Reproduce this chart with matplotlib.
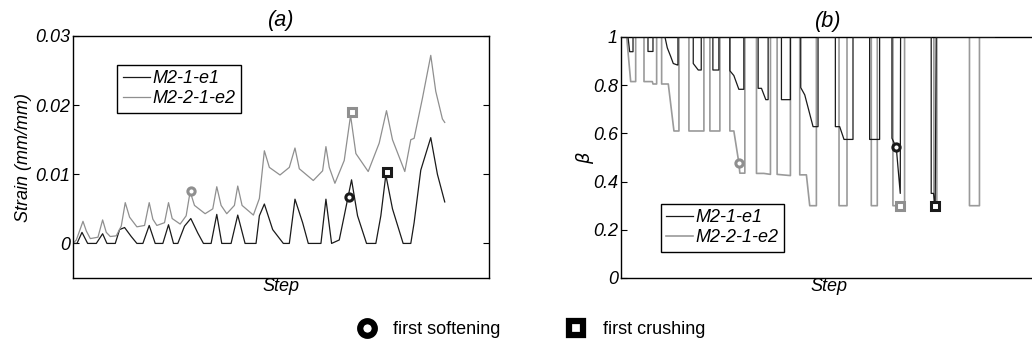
import matplotlib
matplotlib.use("Agg")
import matplotlib.pyplot as plt
from matplotlib.lines import Line2D

plt.rcParams["font.family"] = ["Liberation Sans", "DejaVu Sans"]
plt.rcParams["font.size"] = 13

# ---- panel (a): strain vs step ----
step_e1 = [0, 12, 27, 44, 70, 89, 102, 127, 140, 155, 175, 192, 210, 229, 247, 270, 287,
           302, 315, 335, 354, 375, 392, 415, 432, 447, 475, 495, 517, 550, 560, 575, 600,
           632, 650, 667, 690, 707, 745, 760, 777, 800, 815, 837, 855, 882, 910, 925, 940,
           960, 992, 1015, 1025, 1045, 1075, 1095, 1117]
strain_e1 = [0, 0, 0.0016, 0, 0, 0.0014, 0, 0, 0.002, 0.0023, 0.001, 0, 0, 0.0026, 0, 0,
             0.0027, 0, 0, 0.0025, 0.0036, 0.0015, 0, 0, 0.0042, 0, 0, 0.0041, 0, 0, 0.004,
             0.0057, 0.002, 0, 0, 0.0064, 0.003, 0, 0, 0.0064, 0, 0.0005, 0.004, 0.0092,
             0.004, 0, 0, 0.004, 0.0099, 0.005, 0, 0, 0.003, 0.0106, 0.0153, 0.01, 0.006]

step_e2 = [0, 10, 30, 40, 52, 75, 89, 100, 112, 130, 145, 157, 170, 192, 215, 229, 240, 252,
           275, 287, 298, 322, 340, 352, 365, 397, 420, 432, 445, 462, 485, 495, 508, 542,
           560, 575, 590, 622, 650, 667, 680, 722, 750, 760, 770, 787, 815, 834, 850, 887,
           920, 942, 960, 997, 1015, 1025, 1050, 1075, 1090, 1110, 1117]
strain_e2 = [0, 0.0005, 0.0032, 0.0018, 0.0007, 0.0009, 0.0034, 0.0016, 0.001, 0.0011,
             0.0025, 0.0059, 0.0038, 0.0024, 0.0026, 0.0059, 0.0035, 0.0026, 0.003, 0.0059,
             0.0036, 0.0028, 0.004, 0.0075, 0.0055, 0.0043, 0.005, 0.0082, 0.0055, 0.0043,
             0.0055, 0.0083, 0.0055, 0.0041, 0.0065, 0.0134, 0.011, 0.0099, 0.011, 0.0138,
             0.0108, 0.0091, 0.0105, 0.014, 0.011, 0.0087, 0.012, 0.0185, 0.013, 0.0104,
             0.0145, 0.0192, 0.015, 0.0104, 0.015, 0.0152, 0.021, 0.0272, 0.022, 0.018, 0.0175]

# ---- panel (b): beta vs step ----
bstep_e1 = [0, 22, 27, 37, 37, 82, 82, 97, 97, 133, 140, 150, 158, 170, 172, 172, 218, 218,
            233, 242, 242, 277, 277, 295, 295, 328, 328, 340, 355, 370, 370, 413, 413, 423,
            436, 443, 443, 483, 483, 510, 510, 541, 541, 553, 578, 593, 593, 645, 645, 658,
            671, 698, 698, 748, 748, 778, 778, 815, 815, 828, 840, 841, 933, 933, 940, 945,
            948, 1123]
beta_e1 = [1, 1, 0.939, 0.939, 1, 1, 0.94, 0.94, 1, 1, 0.955, 0.92, 0.89, 0.884, 0.884, 1, 1,
           0.89, 0.863, 0.863, 1, 1, 0.863, 0.863, 1, 1, 0.86, 0.84, 0.783, 0.783, 1, 1, 0.787,
           0.787, 0.74, 0.74, 1, 1, 0.74, 0.74, 1, 1, 0.79, 0.76, 0.628, 0.628, 1, 1, 0.628,
           0.628, 0.575, 0.575, 1, 1, 0.575, 0.575, 1, 1, 0.58, 0.542, 0.351, 1, 1, 0.351,
           0.351, 0.30, 1, 1]

bstep_e2 = [0, 18, 30, 45, 45, 70, 70, 95, 97, 108, 108, 123, 123, 143, 160, 175, 175, 205,
            205, 250, 250, 268, 268, 298, 298, 328, 328, 340, 355, 358, 373, 373, 408, 408,
            430, 450, 450, 470, 470, 510, 510, 538, 538, 558, 568, 588, 588, 656, 656, 680,
            680, 753, 753, 771, 771, 818, 818, 853, 853, 941, 941, 950, 950, 1048, 1048, 1078,
            1078, 1123]
beta_e2 = [1, 1, 0.815, 0.815, 1, 1, 0.815, 0.815, 0.805, 0.805, 1, 1, 0.805, 0.805, 0.61,
           0.61, 1, 1, 0.61, 0.61, 1, 1, 0.61, 0.61, 1, 1, 0.61, 0.61, 0.478, 0.435, 0.435, 1,
           1, 0.434, 0.434, 0.43, 1, 1, 0.43, 0.425, 1, 1, 0.428, 0.428, 0.30, 0.30, 1, 1,
           0.30, 0.30, 1, 1, 0.30, 0.30, 1, 1, 0.30, 0.30, 1, 1, 0.30, 0.30, 1, 1, 0.30, 0.30,
           1, 1]

# event markers: (step, strain, beta)
soft_e1 = (828, 0.0067, 0.542)
soft_e2 = (355, 0.0076, 0.478)
crush_e1 = (945, 0.0104, 0.30)
crush_e2 = (838, 0.0190, 0.30)

BLACK = "#1a1a1a"
GRAY = "#8f8f8f"
GRAY_B = "#9a9a9a"
W, H = 1032, 345

fig = plt.figure(figsize=(W / 100, H / 100), dpi=100)
ax1 = fig.add_axes([73 / W, 67 / H, 416 / W, 242 / H])
ax2 = fig.add_axes([620.7 / W, 67 / H, 416 / W, 241 / H])

it = dict(style="italic")
leg_kw = dict(loc="upper left", fancybox=False, edgecolor="black", framealpha=1,
              borderpad=0.3, borderaxespad=0, handlelength=1.5, handletextpad=0.15,
              labelspacing=0.15, prop=dict(style="italic", size=13))

# (a)
ax1.plot(step_e1, strain_e1, color=BLACK, lw=0.9, label="M2-1-e1")
ax1.plot(step_e2, strain_e2, color=GRAY, lw=0.9, label="M2-2-1-e2")
mk = dict(ms=5.2, mew=2.2, mfc="white", ls="none")
ax1.plot(soft_e2[0], soft_e2[1], "o", mec=GRAY, **mk)
ax1.plot(crush_e2[0], crush_e2[1], "s", mec=GRAY, **mk)
ax1.plot(soft_e1[0], soft_e1[1], "o", mec=BLACK, **mk)
ax1.plot(crush_e1[0], crush_e1[1], "s", mec=BLACK, **mk)
ax1.set_xlim(0, 1250)
ax1.set_ylim(-0.005, 0.03)
ax1.set_yticks([0, 0.01, 0.02, 0.03])
ax1.set_yticklabels(["0", "0.01", "0.02", "0.03"], **it)
ax1.set_ylabel("Strain (mm/mm)", labelpad=2, **it)
ax1.set_xlabel("Step", labelpad=0, **it)
ax1.set_title("(a)", pad=7, **it)
leg1 = ax1.legend(bbox_to_anchor=(0.106, 0.88), **leg_kw)
leg1.get_frame().set_linewidth(1.0)

# (b)
ax2.plot(bstep_e1, beta_e1, color=BLACK, lw=0.9, label="M2-1-e1", zorder=3)
ax2.plot(bstep_e2, beta_e2, color=GRAY_B, lw=1.2, label="M2-2-1-e2", zorder=2)
ax2.plot(soft_e2[0], soft_e2[2], "o", mec=GRAY, zorder=4, **mk)
ax2.plot(crush_e2[0], crush_e2[2], "s", mec=GRAY, zorder=4, **mk)
ax2.plot(soft_e1[0], soft_e1[2], "o", mec=BLACK, zorder=4, **mk)
ax2.plot(crush_e1[0], crush_e1[2], "s", mec=BLACK, zorder=4, **mk)
ax2.set_xlim(0, 1250)
ax2.set_ylim(0, 1)
ax2.set_yticks([0, 0.2, 0.4, 0.6, 0.8, 1])
ax2.set_yticklabels(["0", "0.2", "0.4", "0.6", "0.8", "1"], **it)
ax2.set_ylabel(r"$\beta$", labelpad=-2)
ax2.set_xlabel("Step", labelpad=0, **it)
ax2.set_title("(b)", pad=7, **it)
leg2 = ax2.legend(bbox_to_anchor=(0.096, 0.307), **leg_kw)
leg2.get_frame().set_linewidth(1.0)

for ax in (ax1, ax2):
    ax.set_xticks([])
    ax.tick_params(axis="y", direction="in", length=4, width=0.8, pad=2)
    for s in ax.spines.values():
        s.set_linewidth(1.0)
        s.set_color("black")
ax1.tick_params(axis="y", right=True)

handles = [Line2D([], [], marker="o", ls="none", ms=10.5, mew=4.5, mec="black", mfc="white"),
           Line2D([], [], marker="s", ls="none", ms=10.5, mew=4.5, mec="black", mfc="white")]
fig.legend(handles, ["first softening", "first crushing"], loc="center left",
           bbox_to_anchor=(349 / W, 1 - 330 / H), ncol=2, frameon=False, borderpad=0,
           handlelength=1.0, handletextpad=0.95, columnspacing=3.7, fontsize=13)

fig.savefig("out.png", dpi=100)
